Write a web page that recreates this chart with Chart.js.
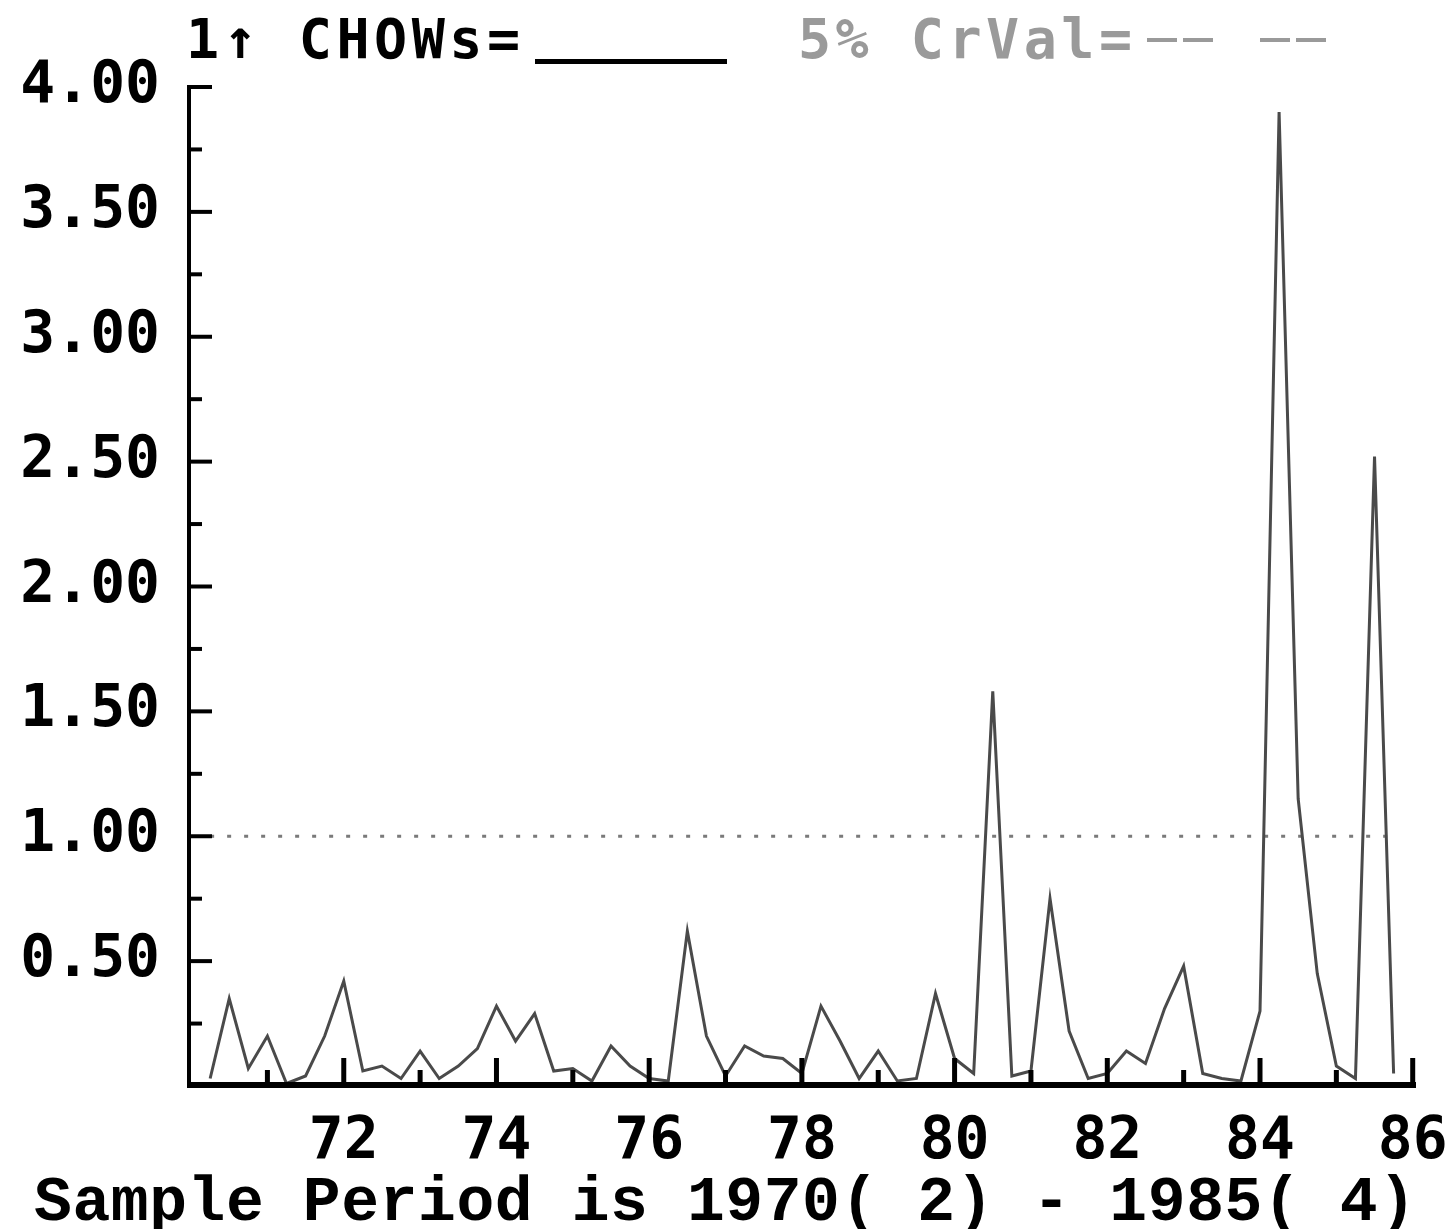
<!DOCTYPE html>
<html>
<head>
<meta charset="utf-8">
<script src="https://cdn.jsdelivr.net/npm/chart.js@4.4.1/dist/chart.umd.min.js"></script>
<style>
  html, body { margin: 0; padding: 0; background: #fff; }
  #wrap { position: relative; width: 1456px; height: 1229px; overflow: hidden; }
  #chowChart { position: absolute; left: 0; top: 0; }
  .txt { position: absolute; white-space: pre; line-height: 1; font-weight: bold; }
  .title { left: 186px; top: 12px; font-family: "DejaVu Sans Mono", monospace; font-size: 55px; letter-spacing: 4.5px; color: #000; }
  .crval { left: 798px; top: 12px; font-family: "DejaVu Sans Mono", monospace; font-size: 55px; letter-spacing: 4.5px; color: #9a9a9a; }
  .solid { position: absolute; left: 535px; top: 59px; width: 192px; height: 5px; background: #000; }
  .dash { position: absolute; top: 38px; width: 30px; height: 4px; background: #9a9a9a; }
  .footer { left: 34px; top: 1172px; font-family: "Liberation Mono", monospace; font-size: 63px; letter-spacing: 0.6px; color: #000; }
</style>
</head>
<body>
<div id="wrap">
  <canvas id="chowChart" width="1456" height="1229"></canvas>
  <div class="txt title">1↑ CHOWs=</div>
  <div class="solid"></div>
  <div class="txt crval">5% CrVal=</div>
  <div class="dash" style="left:1147px"></div>
  <div class="dash" style="left:1183px"></div>
  <div class="dash" style="left:1260px"></div>
  <div class="dash" style="left:1296px"></div>
  <div class="txt footer">Sample Period is 1970( 2) - 1985( 4)</div>
</div>
<script>
// 1-step Chow tests scaled by the 5% critical value, quarterly 1970(2) - 1985(4)
const sampleStart = [1970, 2];
const chowValues = [
  0.03, 0.35, 0.07, 0.20, 0.01, 0.04, 0.20, 0.42, 0.06, 0.08, 0.03,
  0.14, 0.03, 0.08, 0.15, 0.32, 0.18, 0.29, 0.06, 0.07, 0.02, 0.16,
  0.08, 0.03, 0.02, 0.62, 0.20, 0.04, 0.16, 0.12, 0.11, 0.05, 0.32,
  0.18, 0.03, 0.14, 0.02, 0.03, 0.37, 0.11, 0.05, 1.58, 0.04, 0.06,
  0.75, 0.22, 0.03, 0.05, 0.14, 0.09, 0.31, 0.48, 0.05, 0.03, 0.02,
  0.30, 3.90, 1.15, 0.45, 0.08, 0.03, 2.52, 0.05
];
const crPeriods = [1970.25, 1985.75];
const crValues = [1.0, 1.0];

const xTickYears = [1972, 1974, 1976, 1978, 1980, 1982, 1984, 1986];
const xTickLabels = ["72", "74", "76", "78", "80", "82", "84", "86"];
const yTickValues = [0.5, 1.0, 1.5, 2.0, 2.5, 3.0, 3.5, 4.0];
const yTickLabels = ["0.50", "1.00", "1.50", "2.00", "2.50", "3.00", "3.50", "4.00"];

const chowPoints = chowValues.map((v, i) => ({
  x: sampleStart[0] + (sampleStart[1] - 1 + i) / 4,
  y: v,
}));
const crPoints = crPeriods.map((p, i) => ({ x: p, y: crValues[i] }));

const axisFrame = {
  id: "axisFrame",
  afterDatasetsDraw(chart) {
    const { ctx, chartArea: area, scales } = chart;
    const xs = scales.x;
    const ys = scales.y;
    ctx.save();
    ctx.strokeStyle = "#000";
    ctx.lineCap = "butt";

    // y axis + inward ticks every 0.25
    ctx.lineWidth = 4;
    ctx.beginPath();
    ctx.moveTo(area.left + 1, area.top - 2);
    ctx.lineTo(area.left + 1, area.bottom);
    ctx.stroke();
    for (let v = 0.25; v <= 4.001; v += 0.25) {
      const py = ys.getPixelForValue(v);
      const len = Math.abs(v * 2 - Math.round(v * 2)) < 0.01 ? 24 : 14;
      ctx.beginPath();
      ctx.moveTo(area.left, py);
      ctx.lineTo(area.left + len, py);
      ctx.stroke();
    }

    // x axis + upward year ticks
    ctx.lineWidth = 6;
    ctx.beginPath();
    ctx.moveTo(area.left - 1, area.bottom - 1);
    ctx.lineTo(area.right + 1, area.bottom - 1);
    ctx.stroke();
    ctx.lineWidth = 5;
    for (let yr = 1971; yr <= 1986; yr++) {
      const px = xs.getPixelForValue(yr);
      const len = yr % 2 === 0 ? 28 : 16;
      ctx.beginPath();
      ctx.moveTo(px, area.bottom);
      ctx.lineTo(px, area.bottom - len);
      ctx.stroke();
    }
    ctx.restore();
  },
};

new Chart(document.getElementById("chowChart").getContext("2d"), {
  type: "line",
  data: {
    datasets: [
      {
        label: "1 CHOWs",
        data: chowPoints,
        borderColor: "#4a4a4a",
        borderWidth: 3,
        pointRadius: 0,
        tension: 0,
      },
      {
        label: "5% CrVal",
        data: crPoints,
        borderColor: "#7a7a7a",
        borderWidth: 3,
        borderDash: [4, 13],
        pointRadius: 0,
      },
    ],
  },
  options: {
    responsive: false,
    devicePixelRatio: 1,
    animation: false,
    layout: { padding: { top: 87, right: 41, left: 0, bottom: 0 } },
    plugins: { legend: { display: false }, tooltip: { enabled: false } },
    scales: {
      x: {
        type: "linear",
        min: 1969.96,
        max: 1986.03,
        afterBuildTicks: (s) => { s.ticks = xTickYears.map((v) => ({ value: v })); },
        afterFit: (s) => { s.height = 143; s.paddingLeft = 0; s.paddingRight = 0; },
        grid: { display: false, drawTicks: false },
        border: { display: false },
        ticks: {
          autoSkip: false,
          maxRotation: 0,
          padding: 22,
          color: "#000",
          font: { family: "DejaVu Sans Mono", size: 58, weight: "bold" },
          callback: (v, i) => xTickLabels[i],
        },
      },
      y: {
        min: 0,
        max: 4,
        afterBuildTicks: (s) => { s.ticks = yTickValues.map((v) => ({ value: v })); },
        afterFit: (s) => { s.width = 188; s.paddingTop = 0; s.paddingBottom = 0; },
        grid: { display: false, drawTicks: false },
        border: { display: false },
        ticks: {
          autoSkip: false,
          padding: 28,
          color: "#000",
          font: { family: "DejaVu Sans Mono", size: 58, weight: "bold" },
          callback: (v, i) => yTickLabels[i],
        },
      },
    },
  },
  plugins: [axisFrame],
});
</script>
</body>
</html>
